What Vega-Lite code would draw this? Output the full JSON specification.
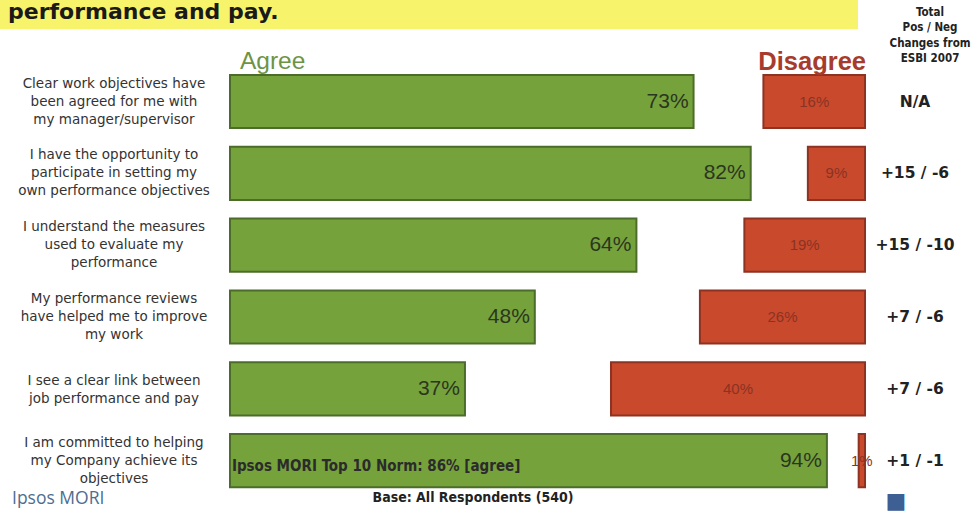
{
  "$schema": "https://vega.github.io/schema/vega-lite/v6.json",
  "background": "white",
  "padding": 0,
  "autosize": {"type": "pad"},
  "config": {"view": {"stroke": null}},
  "datasets": {
    "rows": [
      {"statement": "Clear work objectives have|been agreed for me with|my manager/supervisor", "category": "Agree", "k": 1, "value": 0.73},
      {"statement": "Clear work objectives have|been agreed for me with|my manager/supervisor", "category": "Neither", "k": 2, "value": 0.11},
      {"statement": "Clear work objectives have|been agreed for me with|my manager/supervisor", "category": "Disagree", "k": 3, "value": 0.16},
      {"statement": "I have the opportunity to|participate in setting my|own performance objectives", "category": "Agree", "k": 1, "value": 0.82},
      {"statement": "I have the opportunity to|participate in setting my|own performance objectives", "category": "Neither", "k": 2, "value": 0.09},
      {"statement": "I have the opportunity to|participate in setting my|own performance objectives", "category": "Disagree", "k": 3, "value": 0.09},
      {"statement": "I understand the measures|used to evaluate my|performance", "category": "Agree", "k": 1, "value": 0.64},
      {"statement": "I understand the measures|used to evaluate my|performance", "category": "Neither", "k": 2, "value": 0.17},
      {"statement": "I understand the measures|used to evaluate my|performance", "category": "Disagree", "k": 3, "value": 0.19},
      {"statement": "My performance reviews|have helped me to improve|my work", "category": "Agree", "k": 1, "value": 0.48},
      {"statement": "My performance reviews|have helped me to improve|my work", "category": "Neither", "k": 2, "value": 0.26},
      {"statement": "My performance reviews|have helped me to improve|my work", "category": "Disagree", "k": 3, "value": 0.26},
      {"statement": "I see a clear link between|job performance and pay", "category": "Agree", "k": 1, "value": 0.37},
      {"statement": "I see a clear link between|job performance and pay", "category": "Neither", "k": 2, "value": 0.23},
      {"statement": "I see a clear link between|job performance and pay", "category": "Disagree", "k": 3, "value": 0.40},
      {"statement": "I am committed to helping|my Company achieve its|objectives", "category": "Agree", "k": 1, "value": 0.94},
      {"statement": "I am committed to helping|my Company achieve its|objectives", "category": "Neither", "k": 2, "value": 0.05},
      {"statement": "I am committed to helping|my Company achieve its|objectives", "category": "Disagree", "k": 3, "value": 0.01}
    ],
    "statements": [
      {"statement": "Clear work objectives have|been agreed for me with|my manager/supervisor", "order": 1, "change": "N/A"},
      {"statement": "I have the opportunity to|participate in setting my|own performance objectives", "order": 2, "change": "+15 / -6"},
      {"statement": "I understand the measures|used to evaluate my|performance", "order": 3, "change": "+15 / -10"},
      {"statement": "My performance reviews|have helped me to improve|my work", "order": 4, "change": "+7 / -6"},
      {"statement": "I see a clear link between|job performance and pay", "order": 5, "change": "+7 / -6"},
      {"statement": "I am committed to helping|my Company achieve its|objectives", "order": 6, "change": "+1 / -1"}
    ]
  },
  "vconcat": [
    {
      "width": 858,
      "height": 29,
      "view": {"fill": "#f7f46c", "stroke": null},
      "data": {"values": [{"title": "performance and pay."}]},
      "mark": {"type": "text", "align": "left", "baseline": "alphabetic", "dx": 8, "dy": 4.5, "font": "DejaVu Sans", "fontWeight": "bold", "fontSize": 22, "color": "#1a1a1a"},
      "encoding": {
        "x": {"datum": 0, "type": "quantitative", "scale": {"domain": [0, 1]}, "axis": null},
        "text": {"field": "title"}
      }
    },
    {
      "width": 971,
      "height": 431,
      "encoding": {
        "y": {"field": "statement", "type": "nominal", "axis": null,
          "scale": {"domain": [
            "Clear work objectives have|been agreed for me with|my manager/supervisor",
            "I have the opportunity to|participate in setting my|own performance objectives",
            "I understand the measures|used to evaluate my|performance",
            "My performance reviews|have helped me to improve|my work",
            "I see a clear link between|job performance and pay",
            "I am committed to helping|my Company achieve its|objectives"
          ], "paddingInner": 0.26, "paddingOuter": 0.13}}
      },
      "layer": [
        {
          "data": {"name": "rows"},
          "mark": {"type": "bar", "strokeWidth": 2},
          "encoding": {
            "x": {"field": "value", "type": "quantitative", "stack": "zero", "scale": {"domain": [-0.3622, 1.1669], "nice": false, "zero": false}, "axis": null},
            "order": {"field": "k"},
            "color": {"field": "category", "type": "nominal", "legend": null,
              "scale": {"domain": ["Agree", "Neither", "Disagree"], "range": ["#76a23b", "rgba(255,255,255,0)", "#c9492d"]}},
            "stroke": {"field": "category", "type": "nominal", "legend": null,
              "scale": {"domain": ["Agree", "Neither", "Disagree"], "range": ["#4c6d2a", "rgba(255,255,255,0)", "#8e3322"]}}
          }
        },
        {
          "data": {"name": "rows"},
          "transform": [{"filter": "datum.category === 'Agree'"}],
          "mark": {"type": "text", "align": "right", "baseline": "middle", "dx": -5, "font": "Liberation Sans", "fontSize": 21, "color": "#2b361f"},
          "encoding": {
            "x": {"field": "value", "type": "quantitative", "stack": null},
            "text": {"field": "value", "type": "quantitative", "format": ".0%"}
          }
        },
        {
          "data": {"name": "rows"},
          "mark": {"type": "text", "align": "center", "baseline": "middle", "font": "Liberation Sans", "fontSize": 15, "color": "#8a3322"},
          "encoding": {
            "x": {"field": "value", "type": "quantitative", "stack": "zero", "bandPosition": 0.5},
            "order": {"field": "k"},
            "detail": {"field": "category"},
            "text": {"condition": {"test": "datum.category === 'Disagree'", "field": "value", "type": "quantitative", "format": ".0%"}, "value": ""}
          }
        },
        {
          "data": {"name": "statements"},
          "transform": [{"filter": "datum.order !== 5"}],
          "mark": {"type": "text", "align": "center", "baseline": "middle", "dy": -18, "lineBreak": "|", "lineHeight": 18, "font": "DejaVu Sans", "fontSize": 13.5, "color": "#333333"},
          "encoding": {
            "x": {"datum": -0.1827, "type": "quantitative"},
            "text": {"field": "statement"}
          }
        },
        {
          "data": {"name": "statements"},
          "transform": [{"filter": "datum.order === 5"}],
          "mark": {"type": "text", "align": "center", "baseline": "middle", "dy": -8, "lineBreak": "|", "lineHeight": 18, "font": "DejaVu Sans", "fontSize": 13.5, "color": "#333333"},
          "encoding": {
            "x": {"datum": -0.1827, "type": "quantitative"},
            "text": {"field": "statement"}
          }
        },
        {
          "data": {"name": "statements"},
          "mark": {"type": "text", "align": "center", "baseline": "middle", "font": "DejaVu Sans", "fontWeight": "bold", "fontSize": 15.5, "color": "#222222"},
          "encoding": {
            "x": {"datum": 1.0787, "type": "quantitative"},
            "text": {"field": "change"}
          }
        },
        {
          "data": {"name": "statements"},
          "transform": [{"filter": "datum.order === 1"}],
          "mark": {"type": "text", "align": "left", "baseline": "middle", "dy": -40, "font": "Liberation Sans", "fontSize": 24.5, "color": "#6d9443", "text": "Agree"},
          "encoding": {"x": {"datum": 0.0157, "type": "quantitative"}}
        },
        {
          "data": {"name": "statements"},
          "transform": [{"filter": "datum.order === 1"}],
          "mark": {"type": "text", "align": "right", "baseline": "middle", "dy": -40, "font": "Liberation Sans", "fontWeight": "bold", "fontSize": 25.5, "color": "#a83c2c", "text": "Disagree"},
          "encoding": {"x": {"datum": 1.0016, "type": "quantitative"}}
        },
        {
          "data": {"name": "statements"},
          "transform": [{"filter": "datum.order === 1"}],
          "mark": {"type": "text", "align": "center", "baseline": "middle", "dy": -88.5, "lineBreak": "|", "lineHeight": 15.3, "font": "DejaVu Sans Condensed", "fontWeight": "bold", "fontSize": 11.5, "color": "#222222", "text": "Total|Pos / Neg|Changes from|ESBI 2007"},
          "encoding": {"x": {"datum": 1.1024, "type": "quantitative"}}
        },
        {
          "data": {"name": "statements"},
          "transform": [{"filter": "datum.order === 6"}],
          "mark": {"type": "text", "align": "left", "baseline": "middle", "dy": 5, "font": "DejaVu Sans Condensed", "fontWeight": "bold", "fontSize": 15, "color": "#2b2b2b", "text": "Ipsos MORI Top 10 Norm: 86% [agree]"},
          "encoding": {"x": {"datum": 0.003, "type": "quantitative"}}
        },
        {
          "data": {"name": "statements"},
          "transform": [{"filter": "datum.order === 6"}],
          "mark": {"type": "text", "align": "left", "baseline": "middle", "dy": 38.5, "font": "Open Sans", "fontSize": 17.5, "color": "#4e6d8f", "text": "Ipsos MORI"},
          "encoding": {"x": {"datum": -0.3433, "type": "quantitative"}}
        },
        {
          "data": {"name": "statements"},
          "transform": [{"filter": "datum.order === 6"}],
          "mark": {"type": "text", "align": "center", "baseline": "middle", "dy": 37, "font": "DejaVu Sans Condensed", "fontWeight": "bold", "fontSize": 14, "color": "#222222", "text": "Base: All Respondents (540)"},
          "encoding": {"x": {"datum": 0.3827, "type": "quantitative"}}
        },
        {
          "data": {"name": "statements"},
          "transform": [{"filter": "datum.order === 6"}],
          "mark": {"type": "text", "align": "center", "baseline": "middle", "dy": 40, "font": "DejaVu Sans", "fontSize": 22, "color": "#3d5f93", "text": "■"},
          "encoding": {"x": {"datum": 1.0488, "type": "quantitative"}}
        }
      ]
    }
  ],
  "spacing": 36.6,
  "bounds": "flush"
}
